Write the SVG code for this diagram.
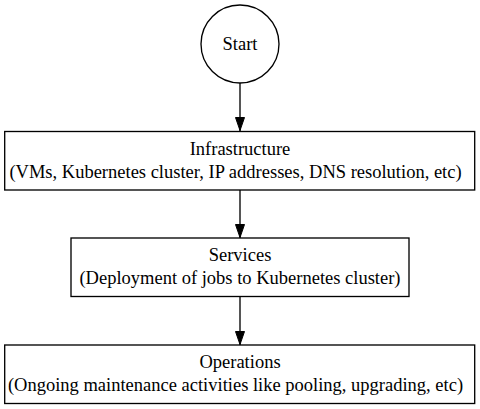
<svg xmlns="http://www.w3.org/2000/svg" width="480" height="409" viewBox="0 0 480 409">
<style>
.n{fill:none;stroke:#000;stroke-width:1.33}
.e{stroke:#000;stroke-width:1.33;fill:none}
</style>
<defs>
<marker id="ah" markerWidth="14" markerHeight="10" refX="14" refY="5" orient="auto" markerUnits="userSpaceOnUse">
<polygon points="0.5,0.5 13.5,5 0.5,9.5" fill="#000" stroke="#000" stroke-width="1"/>
</marker>
</defs>
<rect width="480" height="409" fill="#fff"/>
<g id="edges">
<line class="e" x1="240" y1="83" x2="240" y2="131" marker-end="url(#ah)"/>
<line class="e" x1="240" y1="190" x2="240" y2="238" marker-end="url(#ah)"/>
<line class="e" x1="240" y1="297" x2="240" y2="345" marker-end="url(#ah)"/>
</g>
<g id="start">
<circle class="n" cx="240" cy="44" r="39"/>
<text font-family="Liberation Serif" font-size="18.5" text-anchor="middle" x="240" y="50">Start</text>
</g>
<g id="infrastructure">
<rect class="n" x="4.7" y="131.5" width="470" height="58.5"/>
<text font-family="Liberation Serif" font-size="18.5" text-anchor="middle" x="240" y="155">Infrastructure</text>
<text font-family="Liberation Serif" font-size="18.5" text-anchor="middle" x="235.5" y="178">(VMs, Kubernetes cluster, IP addresses, DNS resolution, etc)</text>
</g>
<g id="services">
<rect class="n" x="71" y="238" width="338" height="58.5"/>
<text font-family="Liberation Serif" font-size="18.5" text-anchor="middle" x="240" y="261">Services</text>
<text font-family="Liberation Serif" font-size="18.5" text-anchor="middle" x="240" y="284">(Deployment of jobs to Kubernetes cluster)</text>
</g>
<g id="operations">
<rect class="n" x="4.7" y="345" width="470" height="58.5"/>
<text font-family="Liberation Serif" font-size="18.5" text-anchor="middle" x="240" y="368">Operations</text>
<text font-family="Liberation Serif" font-size="18.5" text-anchor="middle" x="235.5" y="391">(Ongoing maintenance activities like pooling, upgrading, etc)</text>
</g>
</svg>
